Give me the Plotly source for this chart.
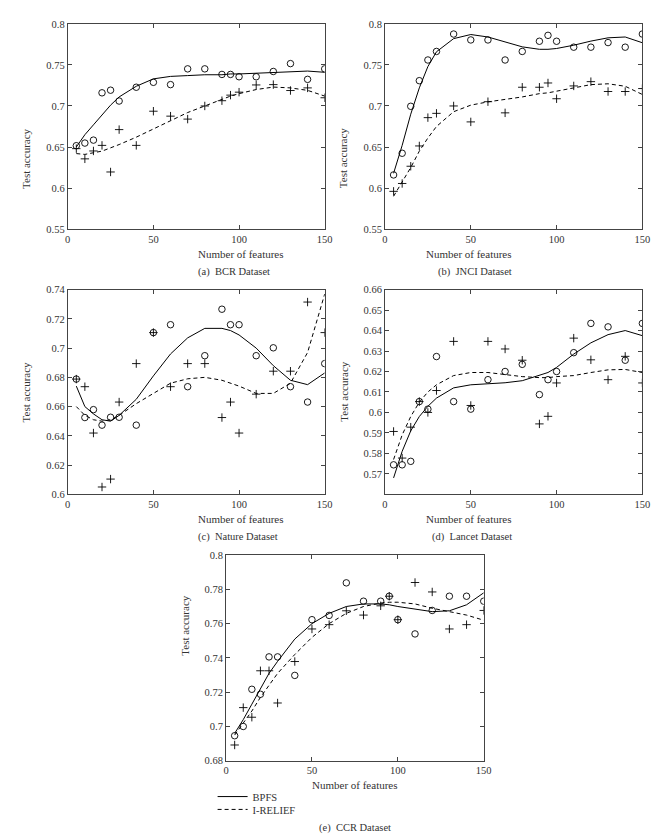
import plotly.graph_objects as go

FEATURES = [5, 10, 15, 20, 25, 30, 40, 50, 60, 70, 80, 90, 95, 100, 110, 120, 130, 140, 150]

# (a) BCR
bcr_bpfs_pts = [0.6516, 0.6548, 0.6584, 0.716, 0.7192, 0.706, 0.7228, 0.7288, 0.726, 0.7452, 0.7452,
                0.7384, 0.7384, 0.7356, 0.7356, 0.742, 0.7516, 0.7324, 0.7452]
bcr_relief_pts = [0.648, 0.6356, 0.6452, 0.652, 0.6196, 0.6712, 0.652, 0.6936, 0.6876, 0.684, 0.700,
                  0.7064, 0.7132, 0.7168, 0.7256, 0.726, 0.7188, 0.722, 0.710]
bcr_bpfs_fit = [0.650, 0.665, 0.677, 0.689, 0.701, 0.711, 0.724, 0.733, 0.736, 0.737, 0.738,
                0.738, 0.739, 0.739, 0.740, 0.741, 0.742, 0.7425, 0.741]
bcr_relief_fit = [0.642, 0.641, 0.643, 0.645, 0.649, 0.653, 0.662, 0.672, 0.682, 0.692, 0.700,
                  0.708, 0.712, 0.715, 0.720, 0.723, 0.722, 0.719, 0.712]

# (b) JNCI
jnci_bpfs_pts = [0.616, 0.6424, 0.6996, 0.7308, 0.756, 0.7664, 0.7876, 0.7804, 0.7804, 0.756, 0.7664,
                 0.7788, 0.786, 0.7788, 0.7716, 0.7716, 0.7772, 0.7716, 0.7876]
jnci_relief_pts = [0.596, 0.6056, 0.6266, 0.6513, 0.6858, 0.691, 0.700, 0.6806, 0.7052, 0.6916, 0.7228,
                   0.7228, 0.728, 0.7088, 0.7244, 0.7296, 0.7176, 0.7176, 0.7212]
jnci_bpfs_fit = [0.618, 0.652, 0.690, 0.722, 0.748, 0.766, 0.782, 0.787, 0.784, 0.778, 0.772,
                 0.769, 0.769, 0.770, 0.774, 0.779, 0.783, 0.784, 0.777]
jnci_relief_fit = [0.590, 0.608, 0.625, 0.645, 0.661, 0.675, 0.693, 0.701, 0.705, 0.708, 0.711,
                   0.715, 0.716, 0.718, 0.722, 0.726, 0.727, 0.724, 0.714]

# (c) Nature
nature_bpfs_pts = [0.6788, 0.6525, 0.6579, 0.6473, 0.6527, 0.6527, 0.6473, 0.7106, 0.716, 0.6736, 0.6948,
                   0.7266, 0.716, 0.716, 0.6948, 0.7002, 0.6736, 0.6631, 0.6894]
nature_relief_pts = [0.6788, 0.6736, 0.6419, 0.605, 0.6104, 0.6631, 0.6894, 0.7106, 0.6736, 0.6894, 0.6894,
                     0.6525, 0.6631, 0.6419, 0.6685, 0.6842, 0.6842, 0.7315, 0.7106]
nature_bpfs_fit = [0.674, 0.660, 0.655, 0.651, 0.650, 0.654, 0.665, 0.681, 0.696, 0.707, 0.7135,
                   0.7135, 0.712, 0.709, 0.700, 0.688, 0.678, 0.675, 0.683]
nature_relief_fit = [0.660, 0.654, 0.651, 0.650, 0.651, 0.654, 0.662, 0.669, 0.676, 0.679, 0.680,
                     0.678, 0.676, 0.674, 0.669, 0.669, 0.676, 0.697, 0.737]

# (d) Lancet
lancet_bpfs_pts = [0.5744, 0.5744, 0.5761, 0.6053, 0.6016, 0.6273, 0.6053, 0.6016, 0.616, 0.620, 0.6235,
                   0.6087, 0.616, 0.620, 0.6292, 0.6435, 0.6418, 0.6255, 0.6435]
lancet_relief_pts = [0.5907, 0.5777, 0.5928, 0.6053, 0.600, 0.6107, 0.6347, 0.6034, 0.6347, 0.631, 0.6255,
                     0.5944, 0.5981, 0.6144, 0.6363, 0.6257, 0.616, 0.6274, 0.6144]
lancet_bpfs_fit = [0.568, 0.581, 0.591, 0.598, 0.603, 0.607, 0.612, 0.6135, 0.614, 0.6145, 0.6155,
                   0.618, 0.6195, 0.622, 0.6285, 0.634, 0.638, 0.640, 0.6375]
lancet_relief_fit = [0.577, 0.589, 0.598, 0.605, 0.610, 0.6135, 0.618, 0.6195, 0.6195, 0.6185, 0.6175,
                     0.617, 0.617, 0.6175, 0.618, 0.6195, 0.6208, 0.621, 0.6195]

# (e) CCR
ccr_bpfs_pts = [0.6946, 0.700, 0.7217, 0.7188, 0.7406, 0.7406, 0.7298, 0.7623, 0.7648, 0.7838, 0.7731,
                0.7731, 0.776, 0.7623, 0.754, 0.7677, 0.776, 0.776, 0.7731]
ccr_relief_pts = [0.6892, 0.711, 0.7054, 0.7325, 0.7325, 0.7137, 0.7379, 0.7569, 0.7594, 0.7675, 0.765,
                  0.7704, 0.776, 0.7623, 0.784, 0.7785, 0.7569, 0.7594, 0.7677]
ccr_bpfs_fit = [0.696, 0.704, 0.713, 0.722, 0.731, 0.738, 0.751, 0.760, 0.766, 0.770, 0.7715,
                0.7715, 0.771, 0.770, 0.7685, 0.767, 0.7675, 0.771, 0.778]
ccr_relief_fit = [0.695, 0.702, 0.709, 0.717, 0.724, 0.731, 0.742, 0.752, 0.760, 0.766, 0.770,
                  0.772, 0.7725, 0.7725, 0.7715, 0.769, 0.767, 0.765, 0.762]

X_TICKS = [0, 50, 100, 150]
Y_TICKS_AB = [0.55, 0.6, 0.65, 0.7, 0.75, 0.8]
Y_TICKS_C = [0.6, 0.62, 0.64, 0.66, 0.68, 0.7, 0.72, 0.74]
Y_TICKS_D = [0.57, 0.58, 0.59, 0.6, 0.61, 0.62, 0.63, 0.64, 0.65, 0.66]
Y_TICKS_E = [0.68, 0.7, 0.72, 0.74, 0.76, 0.78, 0.8]

CAPTIONS = ["(a)  BCR Dataset", "(b)  JNCI Dataset", "(c)  Nature Dataset",
            "(d)  Lancet Dataset", "(e)  CCR Dataset"]
LEGEND_NAMES = ["BPFS", "I-RELIEF"]

W, H = 664, 838
FONT = "Liberation Serif"
TXT = "#333333"

# panel pixel boxes: left, right, top, bottom
panels = [
    dict(box=(57.7, 319.0, 11.0, 219.0), yr=(0.55, 0.8), yt=Y_TICKS_AB,
         data=(bcr_bpfs_pts, bcr_relief_pts, bcr_bpfs_fit, bcr_relief_fit)),
    dict(box=(380.3, 642.0, 11.0, 219.0), yr=(0.55, 0.8), yt=Y_TICKS_AB,
         data=(jnci_bpfs_pts, jnci_relief_pts, jnci_bpfs_fit, jnci_relief_fit)),
    dict(box=(57.7, 319.0, 280.3, 487.7), yr=(0.6, 0.74), yt=Y_TICKS_C,
         data=(nature_bpfs_pts, nature_relief_pts, nature_bpfs_fit, nature_relief_fit)),
    dict(box=(380.3, 642.0, 280.3, 487.7), yr=(0.56, 0.66), yt=Y_TICKS_D,
         data=(lancet_bpfs_pts, lancet_relief_pts, lancet_bpfs_fit, lancet_relief_fit)),
    dict(box=(218.7, 480.7, 549.3, 757.7), yr=(0.68, 0.8), yt=Y_TICKS_E,
         data=(ccr_bpfs_pts, ccr_relief_pts, ccr_bpfs_fit, ccr_relief_fit)),
]

fig = go.Figure()
annotations = []

for i, p in enumerate(panels):
    l, r, t, b = p["box"]
    n = "" if i == 0 else str(i + 1)
    xa, ya = "x" + n, "y" + n
    bpfs_pts, relief_pts, bpfs_fit, relief_fit = p["data"]
    is_last = i == len(panels) - 1
    fig.add_trace(go.Scatter(x=FEATURES, y=bpfs_fit, mode="lines", xaxis=xa, yaxis=ya,
                             line=dict(color="black", width=1), name=LEGEND_NAMES[0],
                             showlegend=is_last, legend="legend"))
    fig.add_trace(go.Scatter(x=FEATURES, y=relief_fit, mode="lines", xaxis=xa, yaxis=ya,
                             line=dict(color="black", width=1, dash="4px,3px"), name=LEGEND_NAMES[1],
                             showlegend=is_last, legend="legend2"))
    fig.add_trace(go.Scatter(x=FEATURES, y=bpfs_pts, mode="markers", xaxis=xa, yaxis=ya,
                             marker=dict(symbol="circle-open", size=6.5, color="black",
                                         line=dict(width=0.9, color="black")),
                             showlegend=False))
    fig.add_trace(go.Scatter(x=FEATURES, y=relief_pts, mode="markers", xaxis=xa, yaxis=ya,
                             marker=dict(symbol="cross-thin-open", size=6, color="black",
                                         line=dict(width=0.9, color="black")),
                             showlegend=False))

    axis_common = dict(showline=True, linecolor="#444444", linewidth=1, mirror="ticks",
                       ticks="inside", ticklen=4, tickcolor="#444444", showgrid=False,
                       zeroline=False, tickfont=dict(family=FONT, size=10.5, color=TXT))
    fig.update_layout(**{
        ("xaxis" + n): dict(domain=[l / W, r / W], range=[0, 150], tickvals=X_TICKS,
                            ticktext=[str(v) for v in X_TICKS], anchor=ya, **axis_common),
        ("yaxis" + n): dict(domain=[1 - b / H, 1 - t / H], range=list(p["yr"]),
                            tickvals=p["yt"], ticktext=[f"{v:g}" for v in p["yt"]],
                            anchor=xa, **axis_common),
    })
    cx = (l + r) / 2
    annotations.append(dict(x=cx / W, y=1 - (b + 25) / H, xref="paper", yref="paper",
                            text="Number of features", showarrow=False,
                            font=dict(family=FONT, size=11, color=TXT), yanchor="middle"))
    cap_y = b + 43 if not is_last else b + 68
    annotations.append(dict(x=cx / W, y=1 - cap_y / H, xref="paper", yref="paper",
                            text=CAPTIONS[i], showarrow=False,
                            font=dict(family=FONT, size=10.5, color=TXT), yanchor="middle"))
    annotations.append(dict(x=(l - 42) / W, y=1 - (t + b) / 2 / H, xref="paper", yref="paper",
                            text="Test accuracy", showarrow=False, textangle=-90,
                            font=dict(family=FONT, size=11, color=TXT), xanchor="center"))

legend_common = dict(xanchor="left", yanchor="middle", font=dict(family=FONT, size=10.5, color=TXT),
                     bgcolor="rgba(0,0,0,0)", itemwidth=30, borderwidth=0)
fig.update_layout(
    width=W, height=H, margin=dict(l=0, r=0, t=0, b=0),
    paper_bgcolor="white", plot_bgcolor="white",
    annotations=annotations,
    legend=dict(x=205 / W, y=1 - 794 / H, **legend_common),
    legend2=dict(x=205 / W, y=1 - 807 / H, **legend_common),
)

fig.write_html("out.html")
